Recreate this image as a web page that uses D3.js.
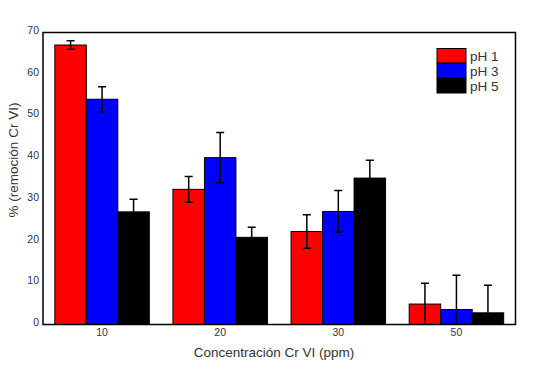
<!DOCTYPE html>
<html>
<head>
<meta charset="utf-8">
<script src="https://cdn.jsdelivr.net/npm/d3@7"></script>
<style>
  body { margin: 0; background: #fff; }
</style>
</head>
<body>
<script>
// chart data
const concentrations = ["10", "20", "30", "50"];
const seriesNames = ["pH 1", "pH 3", "pH 5"];
const seriesColors = ["#ff0000", "#0000ff", "#000000"];
const ph1 = [67, 32.4, 22.3, 4.9];
const ph3 = [54, 40, 27.1, 3.6];
const ph5 = [27, 20.9, 35.1, 2.8];
const ph1Err = [1, 3.1, 4, 5];
const ph3Err = [3, 6, 5, 8.2];
const ph5Err = [3, 2.4, 4.3, 6.6];
const yTicks = [0, 10, 20, 30, 40, 50, 60, 70];

const values = [ph1, ph3, ph5];
const errors = [ph1Err, ph3Err, ph5Err];

const width = 533, height = 377;
const margin = { top: 32.5, right: 17.5, bottom: 52.5, left: 43 };

const svg = d3.select("body").append("svg")
  .attr("width", width)
  .attr("height", height)
  .attr("font-family", "Liberation Sans, Arial, sans-serif");

const x0 = d3.scaleBand()
  .domain(concentrations)
  .range([margin.left, width - margin.right])
  .paddingInner(0.2)
  .paddingOuter(0.1);

const x1 = d3.scaleBand()
  .domain(seriesNames)
  .range([0, x0.bandwidth()]);

const y = d3.scaleLinear()
  .domain([0, 70])
  .range([height - margin.bottom, margin.top]);

// clip so the error bars stop at the axis
svg.append("clipPath").attr("id", "plot")
  .append("rect")
  .attr("x", margin.left)
  .attr("y", margin.top)
  .attr("width", width - margin.left - margin.right)
  .attr("height", height - margin.top - margin.bottom);

const rows = [];
concentrations.forEach((c, i) => {
  seriesNames.forEach((s, j) => {
    rows.push({ c, s, color: seriesColors[j], v: values[j][i], e: errors[j][i] });
  });
});

const plot = svg.append("g").attr("clip-path", "url(#plot)");

plot.selectAll("rect.bar")
  .data(rows)
  .join("rect")
  .attr("class", "bar")
  .attr("x", d => x0(d.c) + x1(d.s))
  .attr("y", d => y(d.v))
  .attr("width", x1.bandwidth())
  .attr("height", d => y(0) - y(d.v))
  .attr("fill", d => d.color)
  .attr("stroke", "#000")
  .attr("stroke-width", 1);

// error bars
const err = plot.selectAll("g.err")
  .data(rows)
  .join("g")
  .attr("class", "err")
  .attr("stroke", "#000")
  .attr("stroke-width", 1.5);

const cx = d => x0(d.c) + x1(d.s) + x1.bandwidth() / 2;
err.append("line")
  .attr("x1", cx).attr("x2", cx)
  .attr("y1", d => y(d.v + d.e))
  .attr("y2", d => y(d.v - d.e));
err.append("line")
  .attr("x1", d => cx(d) - 4).attr("x2", d => cx(d) + 4)
  .attr("y1", d => y(d.v + d.e)).attr("y2", d => y(d.v + d.e));
err.filter(d => d.v - d.e > 0).append("line")
  .attr("x1", d => cx(d) - 4).attr("x2", d => cx(d) + 4)
  .attr("y1", d => y(d.v - d.e)).attr("y2", d => y(d.v - d.e));

// frame
svg.append("rect")
  .attr("x", margin.left)
  .attr("y", margin.top)
  .attr("width", width - margin.left - margin.right)
  .attr("height", height - margin.top - margin.bottom)
  .attr("fill", "none")
  .attr("stroke", "#000")
  .attr("stroke-width", 1.5);

// y axis labels
svg.append("g")
  .attr("transform", `translate(${margin.left},0)`)
  .call(d3.axisLeft(y).tickValues(yTicks).tickSize(0).tickPadding(4))
  .call(g => g.select(".domain").remove())
  .call(g => g.selectAll("text")
    .attr("font-size", 10.5)
    .attr("fill", "#333")
    .attr("font-family", "Liberation Sans, Arial, sans-serif")
    .attr("dy", "0.1em"));

// x axis labels
svg.append("g")
  .attr("transform", `translate(0,${height - margin.bottom})`)
  .call(d3.axisBottom(x0).tickSize(0).tickPadding(4))
  .call(g => g.select(".domain").remove())
  .call(g => g.selectAll("text")
    .attr("font-size", 10.5)
    .attr("fill", "#333")
    .attr("font-family", "Liberation Sans, Arial, sans-serif"));

// axis titles
svg.append("text")
  .attr("x", 274)
  .attr("y", 357)
  .attr("text-anchor", "middle")
  .attr("font-size", 13.5)
  .attr("fill", "#333")
  .text("Concentración Cr VI (ppm)");

svg.append("text")
  .attr("transform", "translate(18,160) rotate(-90)")
  .attr("text-anchor", "middle")
  .attr("font-size", 13.5)
  .attr("fill", "#333")
  .text("% (remoción Cr VI)");

// legend
const legend = svg.append("g")
  .selectAll("g")
  .data(seriesNames)
  .join("g")
  .attr("transform", (d, i) => `translate(437,${48.5 + i * 15})`);

legend.append("rect")
  .attr("width", 29)
  .attr("height", 14.5)
  .attr("fill", (d, i) => seriesColors[i])
  .attr("stroke", "#000")
  .attr("stroke-width", 1);

legend.append("text")
  .attr("x", 33)
  .attr("y", 12)
  .attr("font-size", 13.5)
  .attr("fill", "#333")
  .text(d => d);
</script>
</body>
</html>
